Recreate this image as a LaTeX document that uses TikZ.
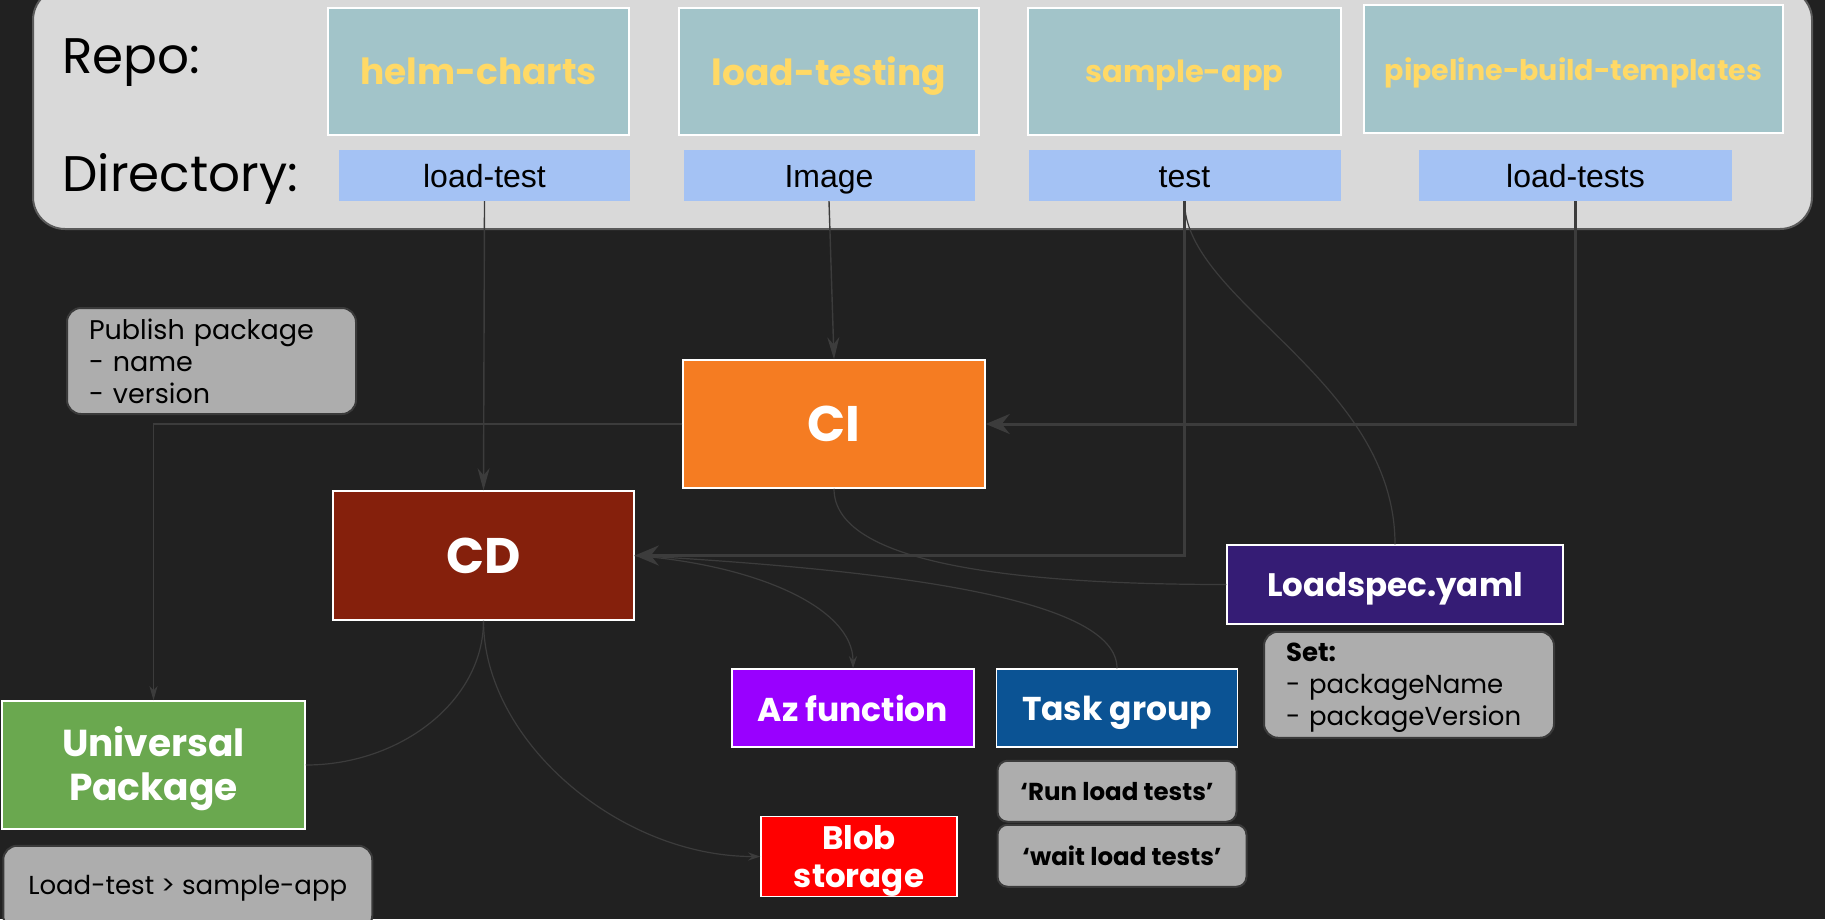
\documentclass[tikz,border=0pt]{standalone}
\usepackage{fontspec}
\setmainfont{Poppins}
\newfontfamily\arialfont{Liberation Sans}
\usetikzlibrary{positioning,arrows.meta}

\definecolor{bgdark}{HTML}{212121}
\definecolor{panelgrey}{HTML}{D9D9D9}
\definecolor{paneledge}{HTML}{5A5A5A}
\definecolor{repoteal}{HTML}{A2C4C9}
\definecolor{repoyellow}{HTML}{FFD966}
\definecolor{dirblue}{HTML}{A4C2F4}
\definecolor{ciorange}{HTML}{F57C22}
\definecolor{cdred}{HTML}{85200C}
\definecolor{specpurple}{HTML}{351C75}
\definecolor{azviolet}{HTML}{9900FF}
\definecolor{taskblue}{HTML}{0B5394}
\definecolor{blobred}{HTML}{FF0000}
\definecolor{upkgreen}{HTML}{6AA84F}
\definecolor{notegrey}{HTML}{ADADAD}
\definecolor{noteedge}{HTML}{3A3A3A}
\definecolor{wirecol}{HTML}{3C3C3C}

\newcommand\sz[2]{\fontsize{#1}{#2}\selectfont}

\begin{document}
\begin{tikzpicture}[x=1pt,y=-1pt,
  repo/.style={rectangle, draw=white, fill=repoteal, line width=1.5pt, text=repoyellow, text depth=0pt, minimum height=127pt},
  dir/.style={rectangle, fill=dirblue, font=\arialfont\sz{32}{36}, text height=30pt, text depth=5pt, minimum height=51pt, inner ysep=0pt},
  stage/.style={rectangle, draw=white, line width=1.5pt, text=white, align=center},
  oneline/.style={text depth=0pt},
  note/.style={rectangle, draw=noteedge, fill=notegrey, line width=2pt, rounded corners=14pt, align=left, inner xsep=22pt, inner ysep=4pt},
  wire/.style={draw=wirecol, line width=1.4pt},
  trunk/.style={draw=wirecol, line width=3pt},
  thinwire/.style={draw=wirecol, line width=1.2pt},]
%Background
\path[use as bounding box] (0,0) rectangle (1825,919);
\clip (0,0) rectangle (1825,919);
\fill[bgdark] (0,0) rectangle (1825,919);
\draw[paneledge, fill=panelgrey, line width=2pt, rounded corners=32pt] (33,-12) rectangle (1812,229);
\node[anchor=base west, font=\sz{50}{54}] (repolbl) at (59,73) {Repo:};
\node[anchor=base west, font=\sz{50}{54}] (dirlbl) at (59,191) {Directory:};

%Nodes
\node[repo, minimum width=301pt, font=\bfseries\sz{36}{40}] (r1) at (478.5,71.5) {helm-charts};
\node[repo, minimum width=300pt, font=\bfseries\sz{36}{40}] (r2) at (829,71.5) {load-testing};
\node[repo, minimum width=313pt, font=\bfseries\sz{30.5}{34}] (r3) at (1184.5,71.5) {sample-app};
\node[repo, minimum width=419pt, minimum height=128pt, font=\bfseries\sz{28.5}{32}] (r4) at (1573.5,69) {pipeline-build-templates};

\node[dir, minimum width=291pt, below=14pt of r1, xshift=6pt] (d1) {load-test};
\node[dir, minimum width=291pt, below=14pt of r2] (d2) {Image};
\node[dir, minimum width=312pt, below=14pt of r3] (d3) {test};
\node[dir, minimum width=313pt, below=16pt of r4, xshift=2pt] (d4) {load-tests};

\node[note, minimum width=289pt, minimum height=106pt, text width=245pt, font=\sz{27}{32}] (pub) at (211.5,361) {Publish package\\- name\\- version};

\node[stage, oneline, fill=ciorange, minimum width=302pt, minimum height=128pt, font=\bfseries\sz{50}{60}] (ci) at (834,424) {CI};
\node[stage, oneline, fill=cdred, minimum width=301pt, minimum height=129pt, font=\bfseries\sz{50}{60}] (cd) at (483.5,555.5) {CD};
\node[stage, oneline, fill=specpurple, minimum width=336pt, minimum height=79pt, font=\bfseries\sz{32.5}{36}] (spec) at (1395,584.5) {Loadspec.yaml};
\node[note, below=6pt of spec, xshift=14pt, minimum width=290pt, minimum height=106pt, text width=246pt, font=\sz{26}{32}] (set) {\rule{0pt}{25pt}\textbf{Set:}\\- packageName\\- packageVersion};

\node[stage, oneline, fill=azviolet, minimum width=242pt, minimum height=78pt, font=\bfseries\sz{33}{36}] (az) at (853,708) {Az function};
\node[stage, oneline, fill=taskblue, right=21pt of az, minimum width=241pt, minimum height=78pt, font=\bfseries\sz{33}{36}] (task) {Task group};
\node[note, below=12pt of task, minimum width=239pt, minimum height=61pt, rounded corners=10pt, font=\bfseries\sz{24.5}{28}] (run) {‘Run load tests’};
\node[note, below right=1pt and 0pt of run.south west, minimum width=249pt, minimum height=62pt, rounded corners=10pt, font=\bfseries\sz{24.5}{28}] (wait) {‘wait load tests’};

\node[stage, fill=blobred, minimum width=196pt, minimum height=79pt, inner ysep=0pt, font=\bfseries\sz{32.5}{38}] (blob) at (859,856.5) {\rule{0pt}{33pt}Blob\\storage};
\node[stage, fill=upkgreen, minimum width=303pt, minimum height=128pt, font=\bfseries\sz{37.5}{44}] (upk) at (153.5,765) {\rule{0pt}{38pt}Universal\\Package};
\node[note, below right=15pt and 1pt of upk.south west, minimum width=369pt, minimum height=84pt, font=\sz{26}{30}] (route) {Load-test > sample-app};

%Lines
\draw[wire, -{Stealth[length=22pt,width=12pt,inset=7pt]}] (d1.south) -- (cd.north);
\draw[wire, -{Stealth[length=22pt,width=12pt,inset=7pt]}] (d2.south) -- (ci.north);
\draw[trunk, -{Stealth[length=24pt,width=20pt,inset=8pt]}] (d4.south) |- (ci.east);
\draw[trunk, -{Stealth[length=24pt,width=20pt,inset=8pt]}] (d3.south) |- (cd.east);
\draw[thinwire, -{Stealth[length=14pt,width=8pt,inset=4pt]}] (ci.west) -| (upk.north);
\draw[thinwire] (d3.south) .. controls +(0,100) and +(0,-165) .. (spec.north);
\draw[thinwire] (ci.south) .. controls +(0,72) and +(-227,0) .. (spec.west);
\draw[thinwire, -{Stealth[length=12pt,width=8pt,inset=4pt]}] (cd.east) .. controls +(126,10) and +(0,-59) .. (az.north);
\draw[thinwire] (task.north) .. controls +(0,-69) and +(266,15) .. (cd.east);
\draw[thinwire] (cd.south) .. controls +(0,80) and +(95,0) .. (upk.east);
\draw[thinwire, -{Stealth[length=12pt,width=8pt,inset=4pt]}] (cd.south) .. controls +(0,120) and +(-141,0) .. (blob.west);

\end{tikzpicture}
\end{document}
